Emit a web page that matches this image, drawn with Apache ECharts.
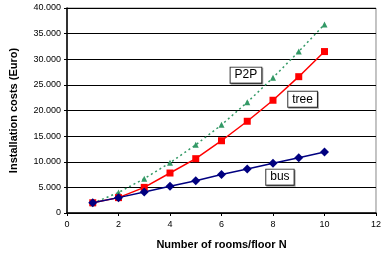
<!DOCTYPE html>
<html>
<head>
<meta charset="utf-8">
<script src="https://cdn.jsdelivr.net/npm/echarts@6/dist/echarts.min.js"></script>
<style>
  html, body { margin: 0; padding: 0; background: #fff; }
  #chart { width: 384px; height: 255px; }
</style>
</head>
<body>
<div id="chart"></div>
<script>
  // data
  var rooms = [1, 2, 3, 4, 5, 6, 7, 8, 9, 10];
  var bus = [2000, 3000, 4100, 5200, 6300, 7500, 8600, 9700, 10800, 11900];
  var tree = [2000, 3000, 5000, 7800, 10600, 14100, 17900, 22000, 26600, 31500];
  var p2p = [1900, 4000, 6700, 9800, 13300, 17200, 21600, 26400, 31500, 36800];
  var xTicks = [0, 2, 4, 6, 8, 10, 12];
  var yTicks = [0, 5000, 10000, 15000, 20000, 25000, 30000, 35000, 40000];

  function pairs(vals) {
    return rooms.map(function (r, i) { return [r, vals[i]]; });
  }

  function fmt(v) {
    return String(v).replace(/\B(?=(\d{3})+(?!\d))/g, '.');
  }

  var boxLabel = {
    show: true,
    color: '#000',
    fontSize: 12,
    fontFamily: 'Liberation Sans, Arial, sans-serif',
    backgroundColor: '#fff',
    borderColor: '#333',
    borderWidth: 1,
    padding: [2, 4, 1, 4],
    shadowColor: 'rgba(0,0,0,0.35)',
    shadowOffsetX: 1,
    shadowOffsetY: 1,
    position: 'inside'
  };

  function tag(text, x, y) {
    return {
      symbol: 'rect', symbolSize: 1,
      itemStyle: { color: 'rgba(0,0,0,0)' },
      coord: [x, y],
      label: Object.assign({ formatter: text }, boxLabel)
    };
  }

  var chartDom = document.getElementById('chart');
  var myChart = echarts.init(chartDom);
  var option = {
    animation: false,
    textStyle: { fontFamily: 'Liberation Sans, Arial, sans-serif' },
    grid: { left: 64, right: 7, top: 8, bottom: 41, show: true, borderColor: '#888', borderWidth: 1 },
    xAxis: {
      type: 'value',
      min: xTicks[0], max: xTicks[xTicks.length - 1], interval: 2,
      name: 'Number of rooms/floor N',
      nameLocation: 'middle', nameGap: 26,
      nameTextStyle: { fontSize: 11, fontWeight: 'bold', color: '#000' },
      axisLine: { lineStyle: { color: '#000', width: 1.5 } },
      axisTick: { show: true, inside: false, length: 3, lineStyle: { color: '#000' } },
      axisLabel: { fontSize: 9, color: '#000', margin: 7 },
      splitLine: { show: false }
    },
    yAxis: {
      type: 'value',
      min: yTicks[0], max: yTicks[yTicks.length - 1], interval: 5000,
      name: 'Installation costs (Euro)',
      nameLocation: 'middle', nameGap: 48,
      nameTextStyle: { fontSize: 11, fontWeight: 'bold', color: '#000' },
      axisLine: { show: true, lineStyle: { color: '#000', width: 1.5 } },
      axisTick: { show: true, inside: false, length: 3, lineStyle: { color: '#000' } },
      axisLabel: { fontSize: 9, color: '#000', margin: 6, formatter: fmt },
      splitLine: { show: true, lineStyle: { color: '#000', width: 1 } }
    },
    series: [
      {
        name: 'P2P', type: 'line', data: pairs(p2p),
        symbol: 'triangle', symbolSize: 6,
        itemStyle: { color: '#339966' },
        lineStyle: { color: '#339966', width: 1.5, type: [2, 3] },
        markPoint: { data: [tag('P2P', 6.95, 26900)] }
      },
      {
        name: 'tree', type: 'line', data: pairs(tree),
        symbol: 'rect', symbolSize: 7,
        itemStyle: { color: '#ff0000' },
        lineStyle: { color: '#ff0000', width: 1.5 },
        markPoint: { data: [tag('tree', 9.15, 22200)] }
      },
      {
        name: 'bus', type: 'line', data: pairs(bus),
        symbol: 'diamond', symbolSize: 9,
        itemStyle: { color: '#000080' },
        lineStyle: { color: '#000080', width: 1.5 },
        markPoint: { data: [tag('bus', 8.27, 7000)] }
      }
    ]
  };
  option && myChart.setOption(option);
</script>
</body>
</html>
